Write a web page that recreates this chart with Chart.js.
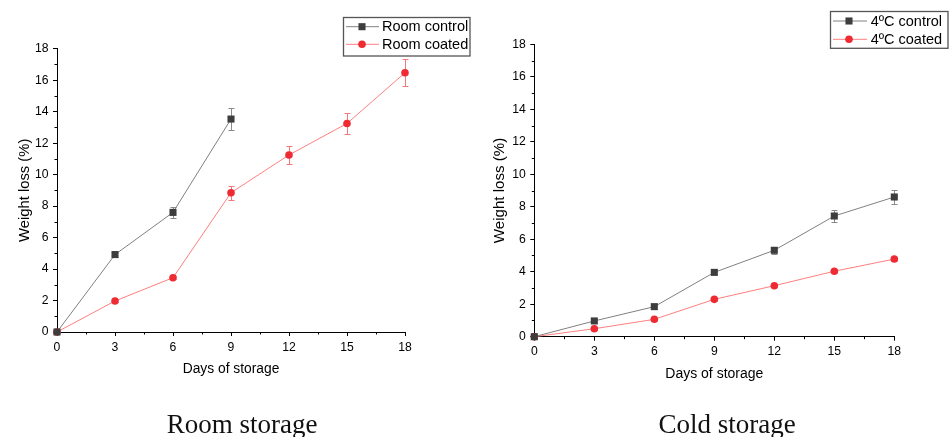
<!DOCTYPE html>
<html><head><meta charset="utf-8">
<script src="https://cdn.jsdelivr.net/npm/chart.js@4"></script>
<style>
html,body{margin:0;padding:0;background:#fff;overflow:hidden;width:952px;height:437px;position:relative}
.w{position:absolute;top:0;height:437px}
.t{position:absolute;top:411px;font-family:"Liberation Serif","DejaVu Serif",serif;font-size:27px;line-height:26px;color:#111;white-space:nowrap;transform:translateX(-50%)}
</style></head><body>
<div class="w" style="left:0;width:480px"><canvas id="c1"></canvas></div>
<div class="w" style="left:480px;width:472px"><canvas id="c2"></canvas></div>
<div class="t" style="left:242px">Room storage</div>
<div class="t" style="left:727px">Cold storage</div>
<script>
// ---- data ----
const days = [0, 3, 6, 9, 12, 15, 18];
const roomControlDays = [0, 3, 6, 9];
const roomControl = [0, 4.92, 7.6, 13.53];
const roomControlErr = [0, 0.18, 0.37, 0.68];
const roomCoated = [0, 1.97, 3.45, 8.85, 11.25, 13.25, 16.47];
const roomCoatedErr = [0, 0.08, 0.1, 0.45, 0.57, 0.68, 0.85];
const coldControl = [0, 0.97, 1.85, 3.96, 5.32, 7.43, 8.6];
const coldControlErr = [0, 0.1, 0.12, 0.12, 0.22, 0.38, 0.45];
const coldCoated = [0, 0.49, 1.07, 2.3, 3.14, 4.03, 4.78];
const coldCoatedErr = [0, 0.05, 0.08, 0.1, 0.1, 0.12, 0.15];
const xTicks = [0, 3, 6, 9, 12, 15, 18];
const yTicks = [0, 2, 4, 6, 8, 10, 12, 14, 16, 18];
const roomLabels = ['Room control', 'Room coated'];
const coldLabels = ['4\u00BAC control', '4\u00BAC coated'];
const xTitle = 'Days of storage';
const yTitle = 'Weight loss (%)';

const pts = (xs, ys) => xs.map((x, i) => ({x: x, y: ys[i]}));

const errPlugin = {
  id: 'errbars',
  beforeDatasetsDraw(chart) {
    const ctx = chart.ctx, xs = chart.scales.x, ys = chart.scales.y;
    chart.data.datasets.forEach(ds => {
      if (!ds.err) return;
      ctx.save();
      ctx.strokeStyle = ds.errColor; ctx.lineWidth = 1;
      ds.data.forEach((p, j) => {
        const e = ds.err[j]; if (!e) return;
        const x = Math.round(xs.getPixelForValue(p.x)) + 0.5;
        const y1 = Math.round(ys.getPixelForValue(p.y - e)) + 0.5;
        const y2 = Math.round(ys.getPixelForValue(p.y + e)) + 0.5;
        ctx.beginPath();
        ctx.moveTo(x, y1); ctx.lineTo(x, y2);
        ctx.moveTo(x - 3, y1); ctx.lineTo(x + 3, y1);
        ctx.moveTo(x - 3, y2); ctx.lineTo(x + 3, y2);
        ctx.stroke();
      });
      ctx.restore();
    });
  }
};

const minorPlugin = {
  id: 'minor',
  afterDraw(chart) {
    const ctx = chart.ctx, xs = chart.scales.x, ys = chart.scales.y, a = chart.chartArea;
    ctx.save(); ctx.strokeStyle = '#000'; ctx.lineWidth = 1;
    ctx.beginPath();
    for (let i = 0; i < xTicks.length - 1; i++) {
      const v = (xTicks[i] + xTicks[i + 1]) / 2;
      const x = Math.round(xs.getPixelForValue(v)) + 0.5;
      ctx.moveTo(x, a.bottom); ctx.lineTo(x, a.bottom + 2.5);
    }
    for (let i = 0; i < yTicks.length - 1; i++) {
      const v = (yTicks[i] + yTicks[i + 1]) / 2;
      const y = Math.round(ys.getPixelForValue(v)) + 0.5;
      ctx.moveTo(a.left, y); ctx.lineTo(a.left - 2.5, y);
    }
    ctx.stroke(); ctx.restore();
  }
};

const legendPlugin = {
  id: 'boxLegend',
  afterDraw(chart, args, o) {
    const ctx = chart.ctx;
    ctx.save();
    ctx.strokeStyle = '#555'; ctx.lineWidth = 1.3;
    ctx.strokeRect(o.x, o.y, o.w, o.h);
    chart.data.datasets.forEach((ds, i) => {
      const y = o.rows[i];
      ctx.strokeStyle = ds.borderColor; ctx.lineWidth = 1;
      ctx.beginPath(); ctx.moveTo(o.l1, y); ctx.lineTo(o.l2, y); ctx.stroke();
      ctx.fillStyle = ds.pointBackgroundColor; ctx.strokeStyle = ds.pointBorderColor;
      Chart.helpers.drawPoint(ctx, {pointStyle: ds.pointStyle, radius: ds.pointRadius, rotation: 0, borderWidth: 0}, o.mx, y);
      ctx.fillStyle = '#000';
      ctx.font = '14.5px "Liberation Sans", Arial, sans-serif';
      ctx.textBaseline = 'middle'; ctx.textAlign = 'left';
      ctx.fillText(ds.label, o.tx, y + 0.5);
    });
    ctx.restore();
  }
};

function make(id, g, sets, labels) {
  const fam = '"Liberation Sans", Arial, sans-serif';
  const tickFont = {family: fam, size: 12.2};
  new Chart(document.getElementById(id), {
    type: 'line',
    data: {
      datasets: [
        {label: labels[0], data: sets[0], err: sets[1], errColor: '#8a8a8a',
         borderColor: '#808080', borderWidth: 1, pointStyle: 'rect', pointRadius: 5,
         pointBackgroundColor: '#3d3d3d', pointBorderColor: '#3d3d3d', pointBorderWidth: 0, clip: false},
        {label: labels[1], data: sets[2], err: sets[3], errColor: '#f07a7a',
         borderColor: '#ff7f7f', borderWidth: 1, pointStyle: 'circle', pointRadius: 3.8,
         pointBackgroundColor: '#ee2b33', pointBorderColor: '#ee2b33', pointBorderWidth: 0, clip: false}
      ]
    },
    options: {
      responsive: true, maintainAspectRatio: false, animation: false,
      layout: {padding: {left: 0, right: g.pr, top: g.pt, bottom: 26}},
      plugins: {legend: {display: false}, tooltip: {enabled: false},
        boxLegend: g.leg},
      elements: {line: {tension: 0}},
      scales: {
        x: {type: 'linear', min: 0, max: 18, offset: false,
          afterBuildTicks: s => { s.ticks = xTicks.map(v => ({value: v})); },
          afterFit: s => { s.height = g.xh; },
          grid: {drawOnChartArea: false, drawTicks: true, tickLength: 4, tickColor: '#000'},
          border: {display: true, color: '#000', width: 1},
          ticks: {font: tickFont, color: '#000', padding: 4, maxRotation: 0},
          title: {display: true, text: xTitle, font: {family: fam, size: g.xf}, color: '#000', padding: {top: 0, bottom: g.xtp}}},
        y: {type: 'linear', min: 0, max: 18,
          afterBuildTicks: s => { s.ticks = yTicks.map(v => ({value: v})); },
          afterFit: s => { s.width = g.yw; },
          grid: {drawOnChartArea: false, drawTicks: true, tickLength: 4, tickColor: '#000'},
          border: {display: true, color: '#000', width: 1},
          ticks: {font: tickFont, color: '#000', padding: 4.5},
          title: {display: true, text: yTitle, font: {family: fam, size: g.yf}, color: '#000', padding: {top: g.ytp, bottom: 0}}}
      }
    },
    plugins: [errPlugin, minorPlugin, legendPlugin]
  });
}

make('c1', {pr: 75, pt: 48.7, xh: 79, yw: 57, xtp: 33.6, ytp: 16, xf: 13.8, yf: 14.8,
  leg: {x: 343.5, y: 17.5, w: 126.5, h: 38.5, rows: [26.7, 44.3], l1: 346, l2: 379, mx: 362, tx: 382}},
  [pts(roomControlDays, roomControl), roomControlErr, pts(days, roomCoated), roomCoatedErr], roomLabels);

make('c2', {pr: 57.7, pt: 44.3, xh: 74.3, yw: 54.3, xtp: 28.3, ytp: 11, xf: 14, yf: 15.1,
  leg: {x: 350.5, y: 11.5, w: 117.5, h: 36.8, rows: [21, 39.3], l1: 353, l2: 387, mx: 369, tx: 390.7}},
  [pts(days, coldControl), coldControlErr, pts(days, coldCoated), coldCoatedErr], coldLabels);
</script>
</body></html>
